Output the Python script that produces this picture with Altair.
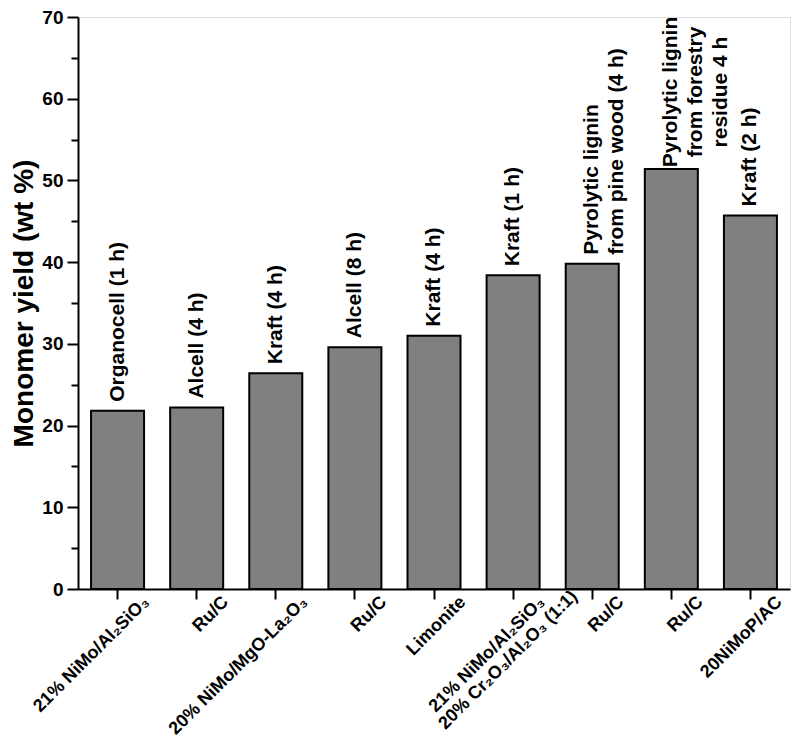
import altair as alt
import pandas as pd

# x-axis labels (catalysts); second line used only by the two-line label
catalyst_line1 = [
    "21% NiMo/Al₂SiO₃",
    "Ru/C",
    "20% NiMo/MgO-La₂O₃",
    "Ru/C",
    "Limonite",
    "21% NiMo/Al₂SiO₃",
    "Ru/C",
    "Ru/C",
    "20NiMoP/AC",
]
catalyst_line2 = ["", "", "", "", "", "20% Cr₂O₃/Al₂O₃ (1:1)", "", "", ""]
lignins = [
    "Organocell (1 h)",
    "Alcell (4 h)",
    "Kraft (4 h)",
    "Alcell (8 h)",
    "Kraft (4 h)",
    "Kraft (1 h)",
    "Pyrolytic lignin\nfrom pine wood (4 h)",
    "Pyrolytic lignin\nfrom forestry\nresidue 4 h",
    "Kraft (2 h)",
]
yields = [21.8, 22.2, 26.4, 29.6, 31.0, 38.4, 39.8, 51.4, 45.7]
centered = [False, False, False, False, False, False, False, True, False]
y_ticks = [0, 5, 10, 15, 20, 25, 30, 35, 40, 45, 50, 55, 60, 65, 70]

df = pd.DataFrame({
    "idx": list(range(len(yields))),
    "line1": catalyst_line1,
    "line2": catalyst_line2,
    "lignin": lignins,
    "yield": yields,
    "centered": centered,
})

FONT = "Liberation Sans"

x_enc = alt.X(
    "idx:O",
    scale=alt.Scale(paddingInner=0.33, paddingOuter=0.165),
    axis=alt.Axis(
        title=None,
        labels=False,
        tickSize=10,
        tickWidth=2,
        tickColor="black",
        domainColor="black",
        domainWidth=2,
    ),
)

y_enc = alt.Y(
    "yield:Q",
    scale=alt.Scale(domain=[0, 70], nice=False),
    axis=alt.Axis(
        title="Monomer yield (wt %)",
        titleFont=FONT,
        titleFontSize=28,
        titleFontWeight="bold",
        titleColor="black",
        titlePadding=3,
        values=y_ticks,
        labelExpr="datum.value % 10 === 0 ? datum.label : ''",
        labelFont=FONT,
        labelFontSize=19,
        labelFontWeight="bold",
        labelColor="black",
        labelPadding=4,
        tickSize={"condition": {"test": "datum.value % 10 === 0", "value": 11}, "value": 7},
        tickWidth=2,
        tickColor="black",
        domainColor="black",
        domainWidth=2,
        grid=False,
    ),
)

base = alt.Chart(df)

bars = base.mark_bar(color="#808080", stroke="black", strokeWidth=2).encode(
    x=x_enc,
    y=y_enc,
)

note_style = dict(
    angle=270,
    baseline="middle",
    font=FONT,
    fontSize=21,
    fontWeight="bold",
    color="black",
    lineBreak="\n",
    lineHeight=25,
)

text_left = base.transform_filter("!datum.centered").mark_text(
    align="left", dx=9, **note_style
).encode(x="idx:O", y="yield:Q", text="lignin:N")

text_center = base.transform_filter("datum.centered").mark_text(
    align="center", dx=77, **note_style
).encode(x="idx:O", y="yield:Q", text="lignin:N")

label_style = dict(
    angle=315,
    align="right",
    baseline="top",
    font=FONT,
    fontSize=18,
    fontWeight="bold",
    color="black",
)

xlab1 = base.mark_text(dx=13, dy=19, **label_style).encode(
    x="idx:O", y=alt.datum(0), text="line1:N"
)
xlab2 = base.transform_filter("datum.line2 != ''").mark_text(
    dx=40, dy=38, **label_style
).encode(x="idx:O", y=alt.datum(0), text="line2:N")

chart = alt.layer(bars, text_left, text_center, xlab1, xlab2).properties(
    width=712,
    height=572,
    padding={"left": 70, "top": 9, "right": 2, "bottom": 148},
    autosize=alt.AutoSizeParams(type="none"),
).configure_view(
    stroke="black",
    strokeWidth=2,
).configure(background="white")

chart.save("out.html", embed_options={"renderer": "svg", "actions": False})
